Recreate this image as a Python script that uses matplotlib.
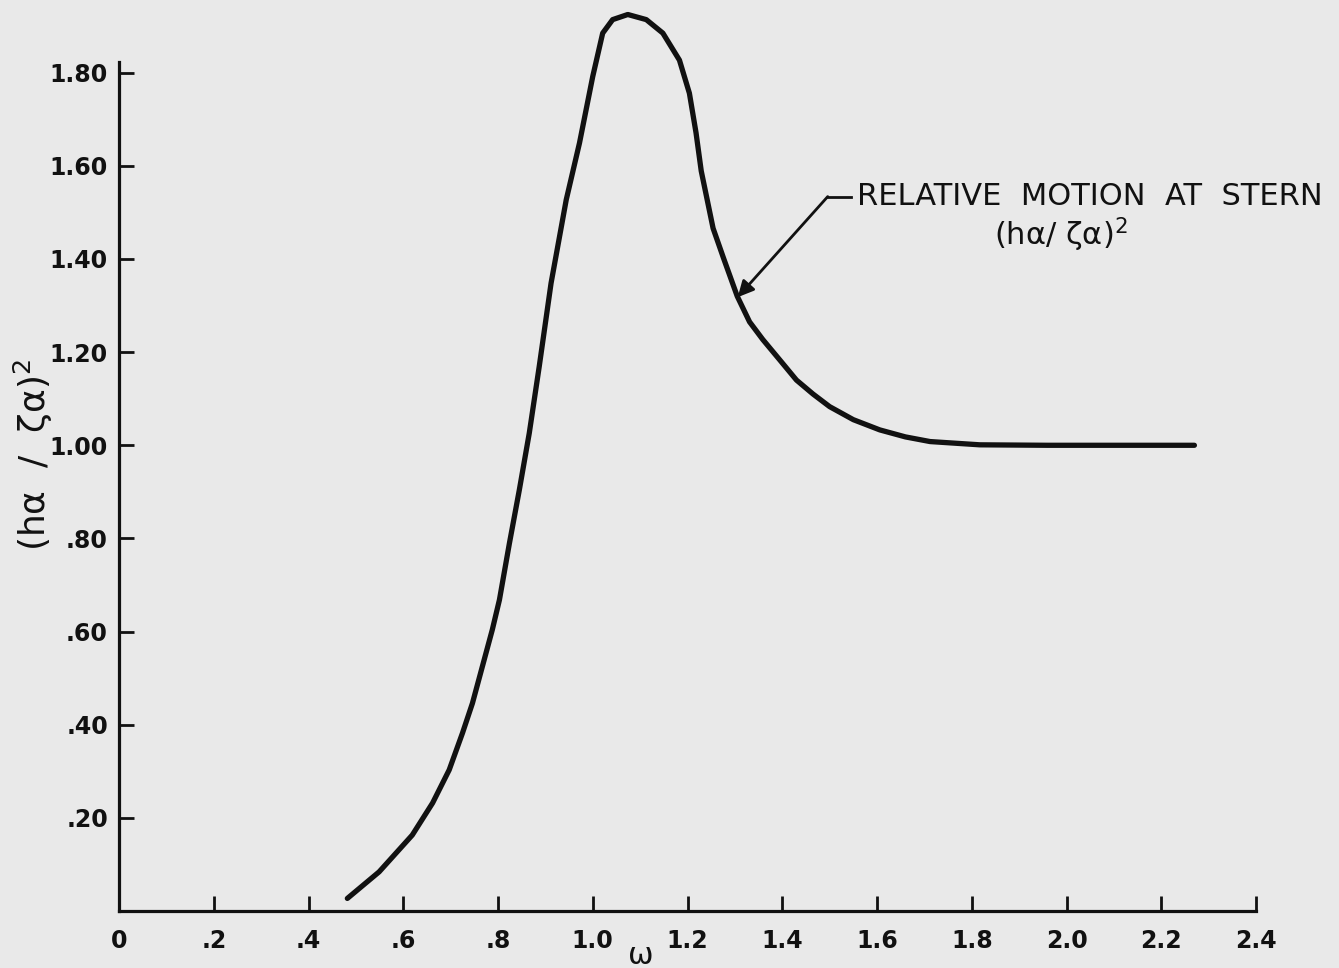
import matplotlib
matplotlib.use("Agg")
import matplotlib.pyplot as plt

# data
omega = [0.482, 0.549, 0.619, 0.662, 0.697, 0.725, 0.746, 0.767, 0.788, 0.803,
         0.824, 0.845, 0.866, 0.887, 0.912, 0.944, 0.972, 1.000, 1.021, 1.042,
         1.074, 1.113, 1.148, 1.183, 1.204, 1.218, 1.229, 1.254, 1.276, 1.305,
         1.331, 1.359, 1.395, 1.430, 1.465, 1.500, 1.550, 1.606, 1.660, 1.712,
         1.817, 1.959, 2.270]
response = [0.027, 0.084, 0.163, 0.232, 0.303, 0.382, 0.446, 0.525, 0.604, 0.668,
            0.789, 0.904, 1.026, 1.169, 1.348, 1.527, 1.649, 1.792, 1.885, 1.914,
            1.925, 1.914, 1.885, 1.827, 1.756, 1.671, 1.589, 1.466, 1.402, 1.320,
            1.265, 1.227, 1.183, 1.140, 1.110, 1.083, 1.055, 1.033, 1.018, 1.008,
            1.001, 1.000, 1.000]

x_ticks = [0, 0.2, 0.4, 0.6, 0.8, 1.0, 1.2, 1.4, 1.6, 1.8, 2.0, 2.2, 2.4]
x_tick_labels = ["0", ".2", ".4", ".6", ".8", "1.0", "1.2", "1.4", "1.6", "1.8", "2.0", "2.2", "2.4"]
y_ticks = [0.2, 0.4, 0.6, 0.8, 1.0, 1.2, 1.4, 1.6, 1.8]
y_tick_labels = [".20", ".40", ".60", ".80", "1.00", "1.20", "1.40", "1.60", "1.80"]

bg = "#e9e9e9"
ink = "#111111"

W, H = 1339, 968
fig = plt.figure(figsize=(W / 100, H / 100), dpi=100, facecolor=bg)
x0, x1, y0, y1 = 119, 1256, 911, 62
ax = fig.add_axes([x0 / W, 1 - y0 / H, (x1 - x0) / W, (y0 - y1) / H])
ax.set_facecolor(bg)

ax.plot(omega, response, color=ink, lw=3.8, clip_on=False,
        solid_capstyle="round", solid_joinstyle="round")

ax.set_xlim(0, 2.4)
ax.set_ylim(0, 1.823)
for s in ["top", "right"]:
    ax.spines[s].set_visible(False)
for s in ["left", "bottom"]:
    ax.spines[s].set_linewidth(2.3)
    ax.spines[s].set_color(ink)

ax.set_xticks(x_ticks)
ax.set_xticklabels(x_tick_labels, fontsize=17, fontweight="bold")
ax.set_yticks(y_ticks)
ax.set_yticklabels(y_tick_labels, fontsize=17, fontweight="bold")
ax.tick_params(axis="both", direction="in", length=11, width=2, colors=ink)
ax.tick_params(axis="x", pad=13)
ax.tick_params(axis="y", pad=8)

fig.text(641 / W, 1 - 955 / H, "ω", fontsize=22, color=ink, ha="center", va="center")
fig.text(33 / W, 1 - 455 / H, "(hα  /  ζα)$^2$", fontsize=26, color=ink,
         rotation=90, ha="center", va="center")

# annotation
ax.annotate("", xy=(1.306, 1.318), xytext=(1.496, 1.534),
            arrowprops=dict(arrowstyle="-|>", color=ink, lw=2.0, mutation_scale=24,
                            shrinkA=0, shrinkB=0))
ax.plot([1.496, 1.545], [1.534, 1.534], color=ink, lw=2.0, clip_on=False)
ax.text(1.558, 1.534, "RELATIVE  MOTION  AT  STERN", fontsize=22, color=ink,
        va="center", ha="left")
ax.text(1.989, 1.452, "(hα/ ζα)$^2$", fontsize=22, color=ink, va="center", ha="center")

fig.savefig("out.png", dpi=100, facecolor=bg)
